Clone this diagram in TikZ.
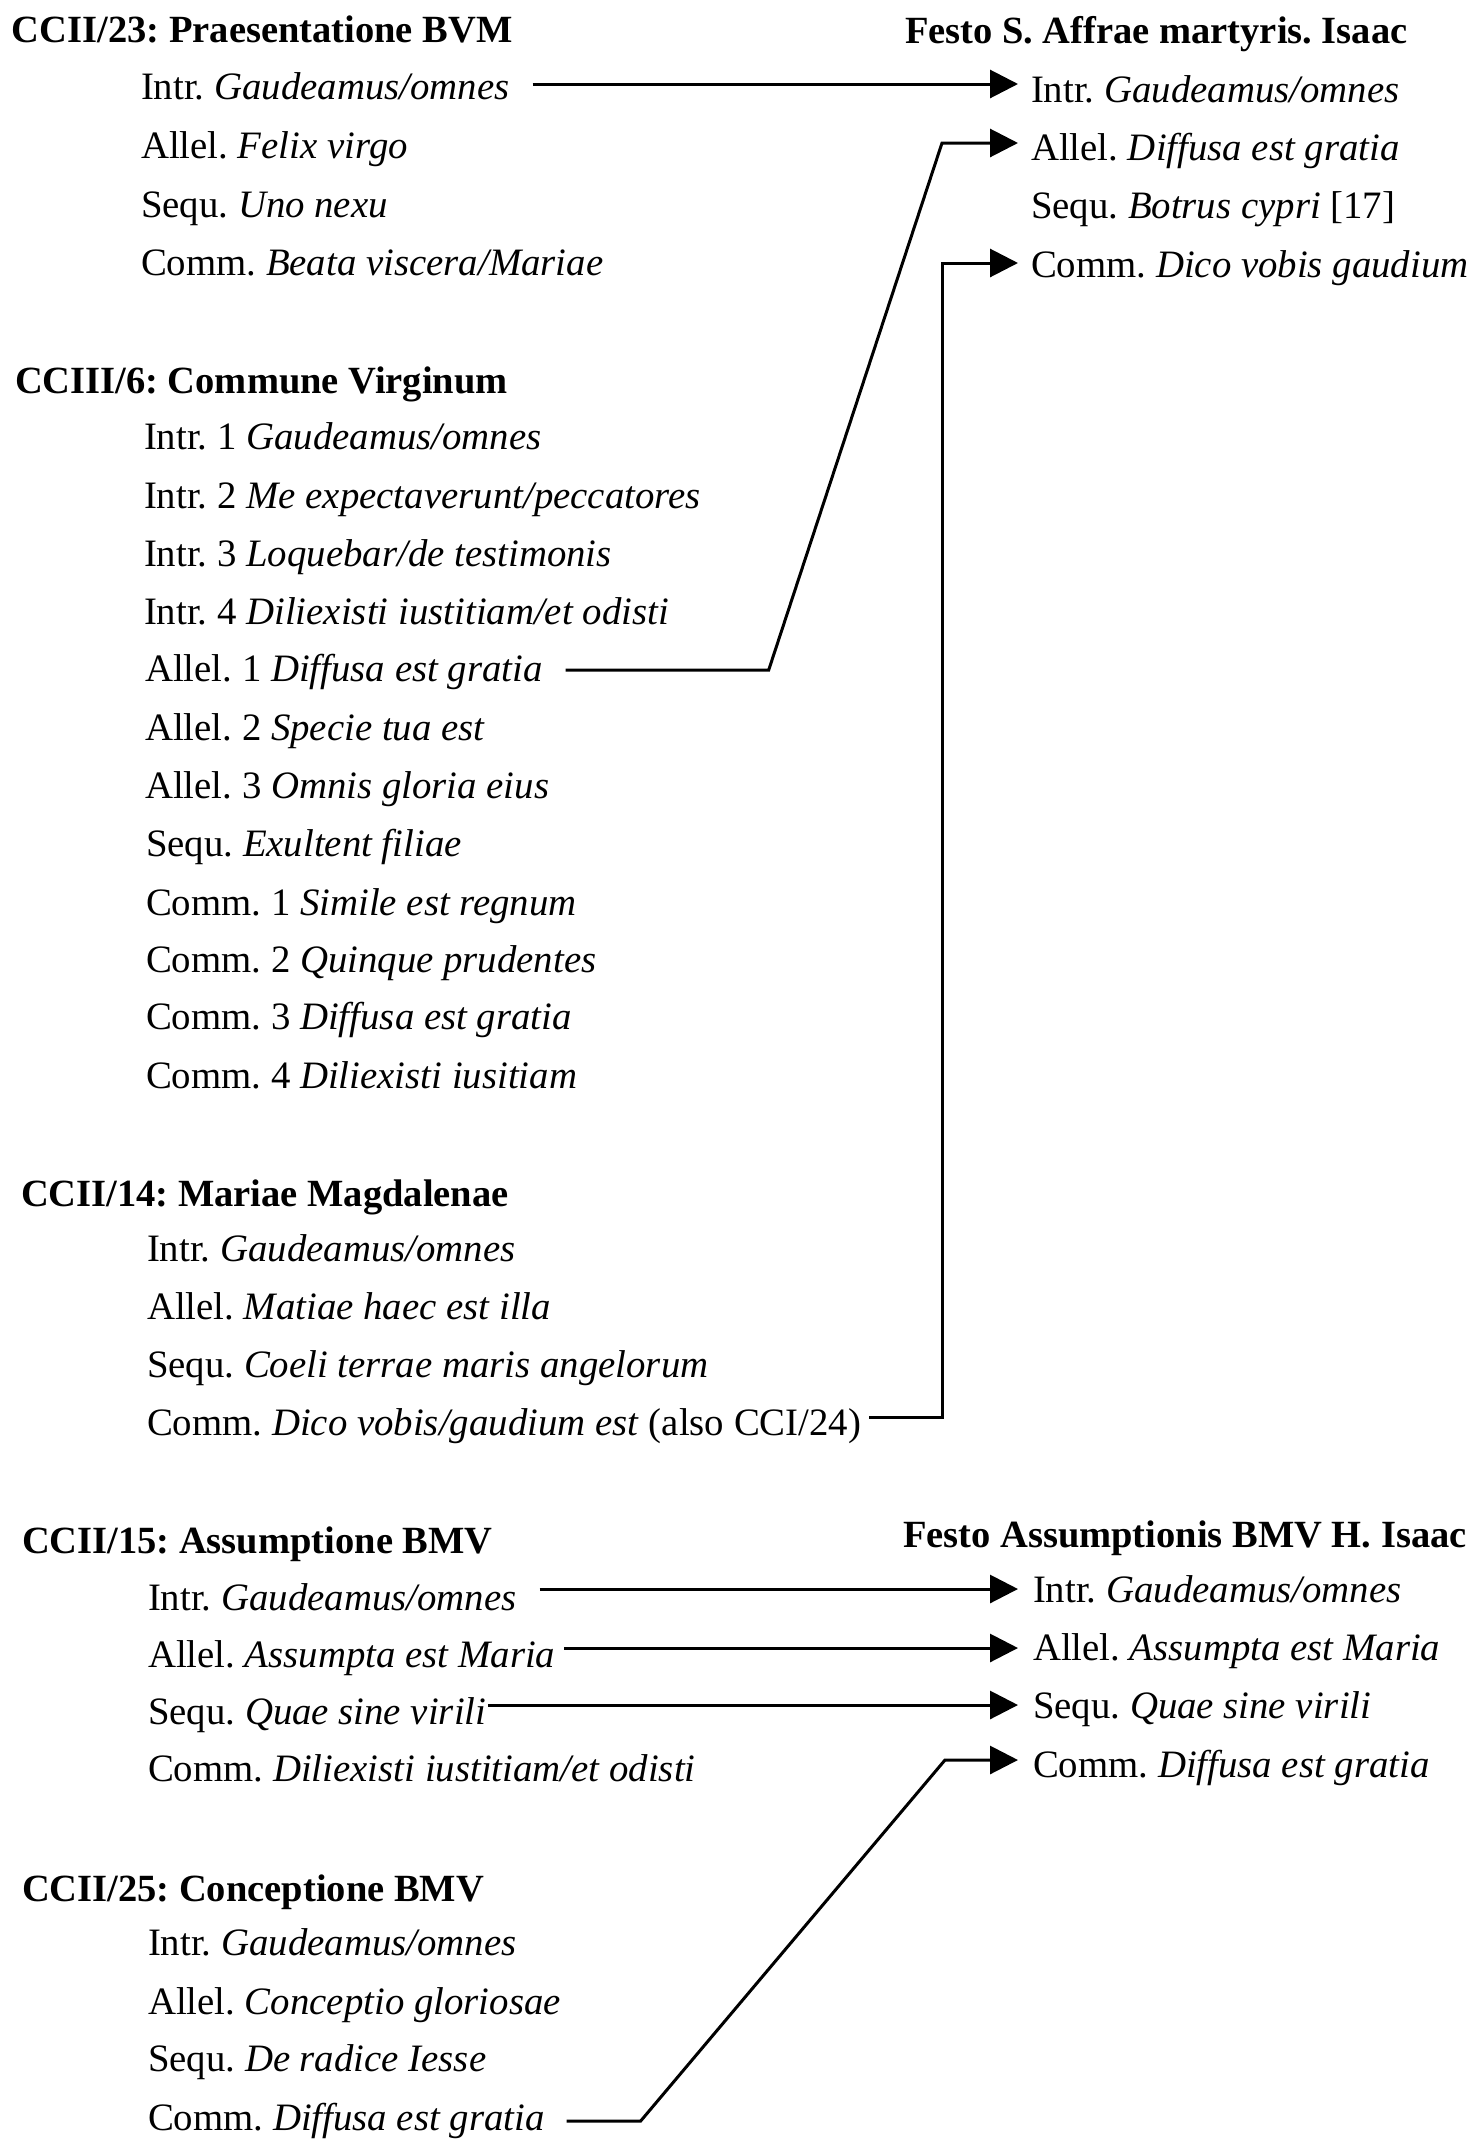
\documentclass[tikz,border=0pt]{standalone}
\usepackage{fontspec}
\setmainfont{Liberation Serif}
\usetikzlibrary{arrows.meta,calc}

\tikzset{
  item/.style={anchor=base west, inner sep=0pt, outer sep=0pt,
    font=\fontsize{38.8}{46}\selectfont\frenchspacing},
  heading/.style={item, font=\fontsize{38.5}{46}\selectfont\bfseries\frenchspacing},
  conn/.style={line width=3pt, line join=miter,
    -{Triangle[length=28pt,width=28pt]}}
}

\begin{document}
\begin{tikzpicture}[x=1pt,y=-1pt]
\fill[white] (0,0) rectangle (1471,2142);
\useasboundingbox (0,0) rectangle (1471,2142);

% ---- CCII/23 ----
\node[heading] (a0) at (12,42)  {CCII/23: Praesentatione BVM};
\node[item] (a1) at (141,99)  {Intr. \textit{Gaudeamus/omnes}};
\node[item] (a2) at (141,158) {Allel. \textit{Felix virgo}};
\node[item] (a3) at (141,217) {Sequ. \textit{Uno nexu}};
\node[item] (a4) at (141,275) {Comm. \textit{Beata viscera/Mariae}};

% ---- CCIII/6 ----
\node[heading] (b0) at (15,393) {CCIII/6: Commune Virginum};
\node[item] (b1)  at (144,449)  {Intr. 1 \textit{Gaudeamus/omnes}};
\node[item] (b2)  at (144,508)  {Intr. 2 \textit{Me expectaverunt/peccatores}};
\node[item] (b3)  at (144,566)  {Intr. 3 \textit{Loquebar/de testimonis}};
\node[item] (b4)  at (144,624)  {Intr. 4 \textit{Diliexisti iustitiam/et odisti}};
\node[item] (b5)  at (145,681)  {Allel. 1 \textit{Diffusa est gratia}};
\node[item] (b6)  at (145,740)  {Allel. 2 \textit{Specie tua est}};
\node[item] (b7)  at (145,798)  {Allel. 3 \textit{Omnis gloria eius}};
\node[item] (b8)  at (146,856)  {Sequ. \textit{Exultent filiae}};
\node[item] (b9)  at (146,915)  {Comm. 1 \textit{Simile est regnum}};
\node[item] (b10) at (146,972)  {Comm. 2 \textit{Quinque prudentes}};
\node[item] (b11) at (146,1029) {Comm. 3 \textit{Diffusa est gratia}};
\node[item] (b12) at (146,1088) {Comm. 4 \textit{Diliexisti iusitiam}};

% ---- CCII/14 ----
\node[heading] (c0) at (21,1206) {CCII/14: Mariae Magdalenae};
\node[item] (c1) at (147,1261) {Intr. \textit{Gaudeamus/omnes}};
\node[item] (c2) at (147,1319) {Allel. \textit{Matiae haec est illa}};
\node[item] (c3) at (147,1377) {Sequ. \textit{Coeli terrae maris angelorum}};
\node[item] (c4) at (147,1435) {Comm. \textit{Dico vobis/gaudium est\/} (also CCI/24)};

% ---- CCII/15 ----
\node[heading] (d0) at (22,1553) {CCII/15: Assumptione BMV};
\node[item] (d1) at (148,1610) {Intr. \textit{Gaudeamus/omnes}};
\node[item] (d2) at (148,1667) {Allel. \textit{Assumpta est Maria}};
\node[item] (d3) at (148,1724) {Sequ. \textit{Quae sine virili}};
\node[item] (d4) at (148,1781) {Comm. \textit{Diliexisti iustitiam/et odisti}};

% ---- CCII/25 ----
\node[heading] (e0) at (22,1901) {CCII/25: Conceptione BMV};
\node[item] (e1) at (148,1955) {Intr. \textit{Gaudeamus/omnes}};
\node[item] (e2) at (148,2014) {Allel. \textit{Conceptio gloriosae}};
\node[item] (e3) at (148,2071) {Sequ. \textit{De radice Iesse}};
\node[item] (e4) at (148,2130) {Comm. \textit{Diffusa est gratia}};

% ---- Festo S. Affrae ----
\node[heading] (p0) at (905,43) {Festo S. Affrae martyris. Isaac};
\node[item] (p1) at (1031,102) {Intr. \textit{Gaudeamus/omnes}};
\node[item] (p2) at (1031,160) {Allel. \textit{Diffusa est gratia}};
\node[item] (p3) at (1031,218) {Sequ. \textit{Botrus cypri} [17]};
\node[item] (p4) at (1031,277) {Comm. \textit{Dico vobis gaudium}};

% ---- Festo Assumptionis ----
\node[heading] (q0) at (903,1547) {Festo Assumptionis BMV H. Isaac};
\node[item] (q1) at (1033,1602) {Intr. \textit{Gaudeamus/omnes}};
\node[item] (q2) at (1033,1660) {Allel. \textit{Assumpta est Maria}};
\node[item] (q3) at (1033,1718) {Sequ. \textit{Quae sine virili}};
\node[item] (q4) at (1033,1777) {Comm. \textit{Diffusa est gratia}};

% ---- arrow tips in front of the target items ----
\coordinate (t1) at ($(p1.base west)+(-13,-18)$);
\coordinate (t2) at ($(p2.base west)+(-13,-17)$);
\coordinate (t3) at ($(p4.base west)+(-13,-14)$);
\coordinate (t4) at ($(q1.base west)+(-15,-13)$);
\coordinate (t5) at ($(q2.base west)+(-15,-12)$);
\coordinate (t6) at ($(q3.base west)+(-15,-13)$);
\coordinate (t7) at ($(q4.base west)+(-15,-17)$);

% ---- connectors ----
\draw[conn] ($(t1 -| a1.base east)+(23,0)$) -- (t1);
\draw[conn] ($(b5.base east)+(23,-11)$) -- ++(203,0)
            -- ($(t2)+(-76,0)$) -- (t2);
\draw[conn] ($(c4.base east)+(8,-18)$) -| ($(t3)+(-76,0)$) -- (t3);
\draw[conn] ($(t4 -| d1.base east)+(23,0)$) -- (t4);
\draw[conn] ($(t5 -| d2.base east)+(9,0)$) -- (t5);
\draw[conn] ($(t6 -| d3.base east)+(2,0)$) -- (t6);
\draw[conn] ($(e4.base east)+(22,-9)$) -- ++(74,0)
            -- ($(t7)+(-73,0)$) -- (t7);
\end{tikzpicture}
\end{document}
